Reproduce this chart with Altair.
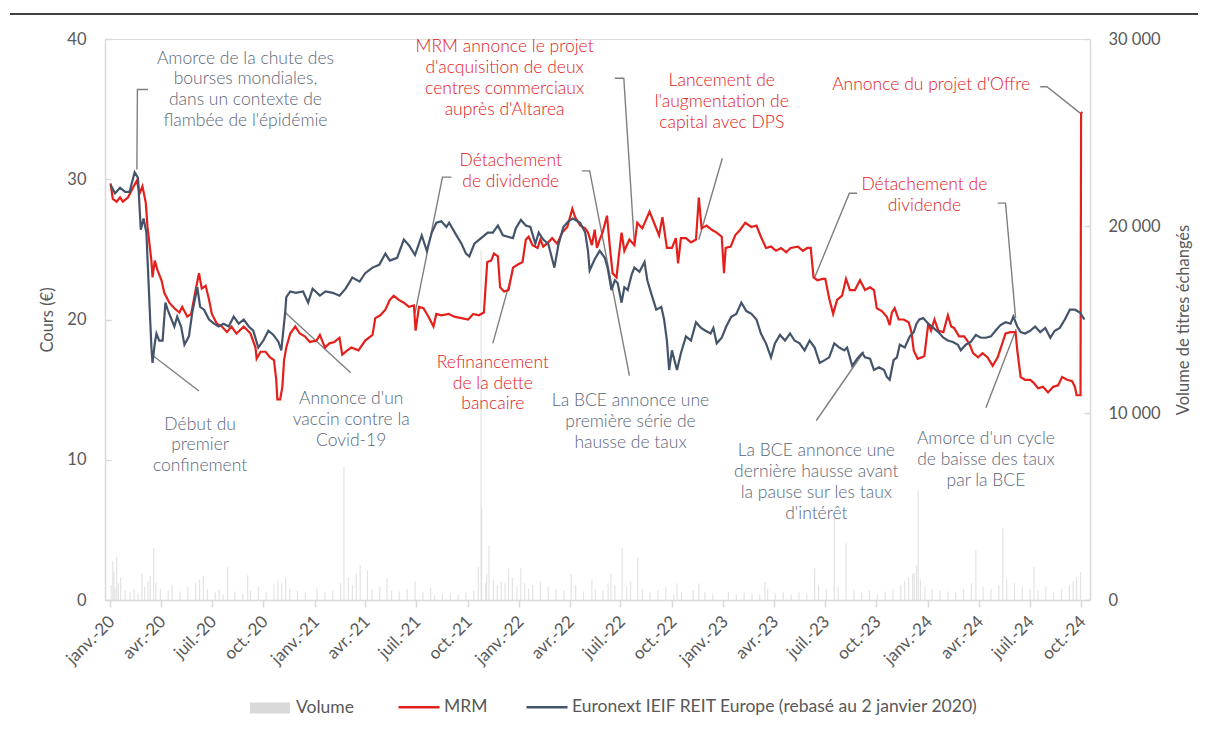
import altair as alt
import pandas as pd

# ---------------- data ----------------
MRM_NAME = "MRM"
IDX_NAME = "Euronext IEIF REIT Europe (rebasé au 2 janvier 2020)"

mrm_dates = [
    "2020-01-02", "2020-01-06", "2020-01-13", "2020-01-19", "2020-01-24", "2020-02-02", "2020-02-11", "2020-02-18",
    "2020-02-23", "2020-02-28", "2020-03-05", "2020-03-08", "2020-03-15", "2020-03-17", "2020-03-21", "2020-03-26",
    "2020-04-02", "2020-04-07", "2020-04-16", "2020-04-25", "2020-05-04", "2020-05-09", "2020-05-18", "2020-05-25",
    "2020-06-03", "2020-06-08", "2020-06-13", "2020-06-20", "2020-06-26", "2020-07-01", "2020-07-10", "2020-07-19",
    "2020-07-28", "2020-08-05", "2020-08-14", "2020-08-27", "2020-09-08", "2020-09-17", "2020-09-19", "2020-09-26",
    "2020-10-05", "2020-10-13", "2020-10-20", "2020-10-24", "2020-10-26", "2020-10-31", "2020-11-04", "2020-11-07",
    "2020-11-11", "2020-11-18", "2020-11-27", "2020-12-05", "2020-12-14", "2020-12-23", "2021-01-04", "2021-01-10",
    "2021-01-19", "2021-01-27", "2021-02-05", "2021-02-14", "2021-02-19", "2021-02-28", "2021-03-07", "2021-03-20",
    "2021-04-01", "2021-04-14", "2021-04-19", "2021-04-28", "2021-05-07", "2021-05-15", "2021-05-22", "2021-05-31",
    "2021-06-09", "2021-06-18", "2021-06-27", "2021-06-30", "2021-07-06", "2021-07-14", "2021-07-23", "2021-08-01",
    "2021-08-06", "2021-08-15", "2021-08-28", "2021-09-07", "2021-09-20", "2021-10-02", "2021-10-11", "2021-10-21",
    "2021-10-30", "2021-11-05", "2021-11-12", "2021-11-17", "2021-11-24", "2021-11-28", "2021-12-05", "2021-12-13",
    "2021-12-21", "2021-12-29", "2022-01-07", "2022-01-13", "2022-01-18", "2022-01-25", "2022-02-03", "2022-02-08",
    "2022-02-13", "2022-02-22", "2022-03-01", "2022-03-10", "2022-03-19", "2022-03-28", "2022-04-06", "2022-04-11",
    "2022-04-20", "2022-04-29", "2022-05-04", "2022-05-11", "2022-05-16", "2022-05-20", "2022-05-25", "2022-05-30",
    "2022-06-07", "2022-06-12", "2022-06-17", "2022-06-24", "2022-06-28", "2022-07-03", "2022-07-08", "2022-07-17",
    "2022-07-26", "2022-07-31", "2022-08-09", "2022-08-22", "2022-08-30", "2022-09-08", "2022-09-14", "2022-09-22",
    "2022-10-01", "2022-10-08", "2022-10-12", "2022-10-17", "2022-10-26", "2022-11-04", "2022-11-13", "2022-11-18",
    "2022-11-23", "2022-12-02", "2022-12-11", "2022-12-20", "2022-12-29", "2023-01-02", "2023-01-05", "2023-01-14",
    "2023-01-22", "2023-01-31", "2023-02-09", "2023-02-20", "2023-03-01", "2023-03-09", "2023-03-18", "2023-03-27",
    "2023-04-05", "2023-04-14", "2023-04-23", "2023-05-01", "2023-05-14", "2023-05-23", "2023-05-31", "2023-06-06",
    "2023-06-11", "2023-06-18", "2023-06-27", "2023-07-02", "2023-07-09", "2023-07-16", "2023-07-23", "2023-08-01",
    "2023-08-08", "2023-08-15", "2023-08-24", "2023-09-02", "2023-09-11", "2023-09-20", "2023-09-27", "2023-10-02",
    "2023-10-11", "2023-10-20", "2023-10-25", "2023-10-29", "2023-11-03", "2023-11-10", "2023-11-19", "2023-11-28",
    "2023-12-03", "2023-12-07", "2023-12-14", "2023-12-21", "2023-12-26", "2024-01-02", "2024-01-07", "2024-01-13",
    "2024-01-20", "2024-01-29", "2024-02-06", "2024-02-12", "2024-02-17", "2024-02-26", "2024-03-06", "2024-03-15",
    "2024-03-22", "2024-03-31", "2024-04-08", "2024-04-17", "2024-04-26", "2024-05-05", "2024-05-10", "2024-05-19",
    "2024-05-28", "2024-06-06", "2024-06-09", "2024-06-15", "2024-06-23", "2024-07-02", "2024-07-08", "2024-07-16",
    "2024-07-25", "2024-08-03", "2024-08-12", "2024-08-21", "2024-08-28", "2024-09-06", "2024-09-15", "2024-09-20",
    "2024-09-23", "2024-09-30", "2024-10-01", "2024-10-03",
]
mrm_values = [
    29.7, 28.6, 28.4, 28.7, 28.4, 28.7, 29.4, 29.9,
    29.0, 29.5, 28.3, 26.6, 24.2, 23.0, 24.2, 23.5,
    22.8, 21.9, 21.2, 20.8, 20.5, 20.9, 20.2, 20.4,
    22.3, 23.3, 22.2, 22.4, 21.4, 20.4, 19.7, 19.5,
    19.1, 19.5, 19.0, 19.5, 19.0, 18.0, 17.2, 17.7,
    17.7, 17.3, 17.1, 15.7, 14.3, 14.3, 15.2, 17.1,
    18.0, 19.0, 19.5, 19.0, 18.8, 18.4, 18.5, 18.9,
    18.0, 18.3, 18.4, 18.7, 17.5, 17.8, 18.0, 17.8,
    18.5, 18.9, 20.1, 20.3, 20.7, 21.4, 21.7, 21.4,
    21.2, 20.9, 21.0, 19.2, 20.9, 20.8, 20.2, 19.5,
    20.4, 20.3, 20.4, 20.2, 20.1, 20.0, 20.4, 20.3,
    20.5, 24.1, 24.2, 24.7, 24.5, 22.3, 22.0, 22.1,
    23.7, 23.9, 24.1, 25.7, 25.9, 25.3, 25.1, 25.7,
    25.2, 25.5, 25.8, 25.4, 26.2, 26.6, 27.9, 27.3,
    26.7, 26.5, 26.2, 25.3, 26.4, 25.1, 25.7, 26.2,
    27.4, 25.2, 23.3, 23.0, 24.5, 26.2, 24.9, 25.7,
    25.3, 26.9, 26.5, 27.7, 26.9, 26.0, 27.3, 25.1,
    25.1, 25.8, 24.0, 25.8, 25.8, 25.5, 25.7, 28.7,
    26.5, 26.7, 26.4, 26.2, 25.9, 23.3, 25.1, 25.2,
    26.0, 26.4, 26.9, 26.6, 26.7, 25.9, 25.1, 25.2,
    24.9, 25.1, 24.8, 25.1, 25.2, 24.9, 25.1, 25.1,
    23.0, 22.8, 22.9, 22.9, 21.5, 20.4, 21.4, 21.7,
    22.9, 22.1, 22.1, 22.8, 22.1, 22.3, 22.1, 20.8,
    20.6, 20.2, 19.6, 20.5, 20.8, 20.0, 20.0, 19.8,
    19.1, 17.8, 17.2, 17.3, 17.4, 19.7, 19.2, 20.0,
    19.2, 19.1, 20.3, 19.5, 19.4, 18.8, 18.8, 18.3,
    17.6, 17.3, 17.6, 17.3, 16.7, 17.3, 17.9, 19.0,
    19.1, 19.1, 17.8, 15.9, 15.7, 15.7, 15.5, 15.1,
    15.2, 14.8, 15.2, 15.3, 15.9, 15.7, 15.6, 15.2,
    14.6, 14.6, 34.7, 34.8,
]

idx_dates = [
    "2020-01-02", "2020-01-10", "2020-01-19", "2020-01-28", "2020-02-05", "2020-02-14", "2020-02-20", "2020-02-25",
    "2020-03-01", "2020-03-06", "2020-03-12", "2020-03-15", "2020-03-17", "2020-03-21", "2020-03-24", "2020-03-29",
    "2020-04-04", "2020-04-09", "2020-04-13", "2020-04-20", "2020-04-25", "2020-04-30", "2020-05-07", "2020-05-13",
    "2020-05-21", "2020-05-27", "2020-06-05", "2020-06-10", "2020-06-17", "2020-06-26", "2020-07-05", "2020-07-13",
    "2020-07-22", "2020-07-31", "2020-08-09", "2020-08-18", "2020-08-27", "2020-09-05", "2020-09-13", "2020-09-22",
    "2020-10-01", "2020-10-10", "2020-10-19", "2020-10-28", "2020-11-02", "2020-11-09", "2020-11-11", "2020-11-18",
    "2020-11-28", "2020-12-11", "2020-12-20", "2020-12-28", "2021-01-10", "2021-01-20", "2021-02-02", "2021-02-14",
    "2021-02-25", "2021-03-09", "2021-03-22", "2021-04-01", "2021-04-14", "2021-04-26", "2021-05-07", "2021-05-15",
    "2021-05-28", "2021-06-09", "2021-06-18", "2021-06-29", "2021-07-11", "2021-07-20", "2021-07-29", "2021-08-06",
    "2021-08-15", "2021-08-24", "2021-08-29", "2021-09-11", "2021-09-20", "2021-09-28", "2021-10-04", "2021-10-13",
    "2021-10-25", "2021-11-06", "2021-11-15", "2021-11-24", "2021-12-03", "2021-12-12", "2021-12-21", "2021-12-26",
    "2022-01-04", "2022-01-13", "2022-01-21", "2022-01-30", "2022-02-05", "2022-02-13", "2022-02-22", "2022-03-05",
    "2022-03-12", "2022-03-21", "2022-03-30", "2022-04-07", "2022-04-20", "2022-04-29", "2022-05-04", "2022-05-07",
    "2022-05-16", "2022-05-25", "2022-06-03", "2022-06-08", "2022-06-15", "2022-06-21", "2022-06-26", "2022-07-03",
    "2022-07-08", "2022-07-14", "2022-07-21", "2022-07-26", "2022-08-04", "2022-08-13", "2022-08-18", "2022-08-27",
    "2022-09-03", "2022-09-12", "2022-09-17", "2022-09-22", "2022-09-26", "2022-10-01", "2022-10-10", "2022-10-17",
    "2022-10-26", "2022-11-04", "2022-11-13", "2022-11-22", "2022-11-30", "2022-12-09", "2022-12-14", "2022-12-20",
    "2022-12-29", "2023-01-06", "2023-01-15", "2023-01-24", "2023-02-02", "2023-02-11", "2023-02-20", "2023-03-01",
    "2023-03-09", "2023-03-18", "2023-03-27", "2023-04-03", "2023-04-12", "2023-04-21", "2023-04-30", "2023-05-08",
    "2023-05-17", "2023-05-26", "2023-06-04", "2023-06-13", "2023-06-22", "2023-07-01", "2023-07-09", "2023-07-18",
    "2023-07-27", "2023-08-05", "2023-08-10", "2023-08-19", "2023-08-28", "2023-09-06", "2023-09-11", "2023-09-20",
    "2023-09-27", "2023-10-06", "2023-10-15", "2023-10-20", "2023-10-25", "2023-11-01", "2023-11-07", "2023-11-12",
    "2023-11-21", "2023-11-30", "2023-12-07", "2023-12-12", "2023-12-17", "2023-12-24", "2024-01-02", "2024-01-11",
    "2024-01-20", "2024-01-29", "2024-02-06", "2024-02-15", "2024-02-24", "2024-02-29", "2024-03-09", "2024-03-18",
    "2024-03-27", "2024-04-05", "2024-04-14", "2024-04-23", "2024-05-01", "2024-05-10", "2024-05-19", "2024-05-28",
    "2024-06-02", "2024-06-09", "2024-06-15", "2024-06-23", "2024-07-02", "2024-07-11", "2024-07-20", "2024-07-29",
    "2024-08-07", "2024-08-15", "2024-08-24", "2024-09-02", "2024-09-11", "2024-09-20", "2024-09-29", "2024-10-07",
]
idx_values = [
    29.6, 29.0, 29.4, 29.1, 29.1, 30.5, 30.1, 26.4,
    27.2, 26.2, 20.7, 18.0, 16.9, 18.3, 19.0, 18.5,
    18.5, 21.2, 20.7, 20.0, 19.5, 20.2, 19.5, 18.2,
    18.8, 20.5, 22.3, 20.9, 20.7, 20.0, 19.7, 19.5,
    19.7, 19.5, 20.2, 19.7, 20.0, 19.5, 19.2, 18.0,
    18.5, 19.2, 18.9, 18.4, 17.8, 20.5, 21.6, 22.0,
    21.9, 22.0, 21.2, 22.2, 21.7, 22.0, 21.9, 21.7,
    22.2, 23.0, 22.7, 23.3, 23.7, 23.9, 24.7, 24.2,
    24.4, 25.7, 25.3, 24.6, 26.0, 24.9, 26.2, 26.9,
    27.0, 26.6, 26.9, 26.0, 25.4, 24.7, 24.5, 25.4,
    25.8, 26.2, 26.2, 26.7, 26.0, 25.9, 25.8, 26.5,
    27.1, 26.7, 26.6, 25.4, 26.2, 25.7, 25.4, 23.7,
    25.3, 26.6, 27.0, 27.2, 26.9, 26.2, 24.9, 23.5,
    24.3, 24.9, 24.4, 23.7, 22.1, 22.8, 22.6, 21.2,
    22.3, 22.1, 23.2, 23.7, 23.4, 24.1, 22.8, 21.6,
    20.7, 20.9, 20.0, 18.5, 16.4, 17.8, 16.4, 17.6,
    18.8, 18.5, 19.8, 19.4, 19.2, 19.0, 19.4, 18.3,
    18.7, 19.5, 20.2, 20.4, 21.2, 20.6, 20.4, 20.0,
    19.0, 18.3, 17.3, 18.3, 18.9, 18.5, 19.0, 18.5,
    18.3, 17.8, 18.5, 18.0, 16.9, 17.1, 17.3, 18.3,
    18.0, 17.8, 18.0, 16.7, 17.2, 17.6, 17.3, 17.2,
    16.4, 16.6, 16.4, 15.9, 15.7, 17.1, 17.3, 18.2,
    18.0, 18.8, 19.1, 19.7, 20.0, 20.1, 19.7, 19.4,
    19.1, 18.7, 18.5, 18.4, 18.2, 17.8, 18.2, 18.4,
    18.9, 18.7, 18.7, 18.8, 19.2, 19.6, 19.8, 19.7,
    20.2, 19.5, 19.1, 19.0, 19.2, 19.5, 19.1, 19.4,
    18.7, 19.2, 19.4, 20.0, 20.7, 20.7, 20.5, 20.0,
]

vol_dates = [
    "2020-01-03", "2020-01-06", "2020-01-08", "2020-01-10", "2020-01-13", "2020-01-16", "2020-01-20", "2020-01-28",
    "2020-02-06", "2020-02-13", "2020-02-20", "2020-02-27", "2020-03-03", "2020-03-09", "2020-03-13", "2020-03-19",
    "2020-03-23", "2020-03-31", "2020-04-14", "2020-04-21", "2020-05-05", "2020-05-19", "2020-06-02", "2020-06-09",
    "2020-06-16", "2020-06-23", "2020-07-07", "2020-07-14", "2020-07-21", "2020-07-29", "2020-08-11", "2020-08-25",
    "2020-09-03", "2020-09-08", "2020-09-22", "2020-10-06", "2020-10-20", "2020-10-27", "2020-11-03", "2020-11-10",
    "2020-11-17", "2020-12-01", "2020-12-15", "2021-01-05", "2021-01-19", "2021-02-02", "2021-02-16", "2021-02-22",
    "2021-03-02", "2021-03-09", "2021-03-16", "2021-03-23", "2021-04-05", "2021-04-13", "2021-04-27", "2021-05-10",
    "2021-05-18", "2021-06-01", "2021-06-15", "2021-06-29", "2021-07-13", "2021-07-27", "2021-08-03", "2021-08-17",
    "2021-08-31", "2021-09-14", "2021-09-28", "2021-10-12", "2021-10-20", "2021-10-25", "2021-10-26", "2021-11-02",
    "2021-11-04", "2021-11-08", "2021-11-16", "2021-11-23", "2021-11-30", "2021-12-07", "2021-12-13", "2021-12-20",
    "2021-12-28", "2022-01-04", "2022-01-11", "2022-01-18", "2022-01-25", "2022-02-08", "2022-02-22", "2022-03-08",
    "2022-03-22", "2022-04-04", "2022-04-12", "2022-04-26", "2022-05-11", "2022-05-17", "2022-05-31", "2022-06-09",
    "2022-06-14", "2022-06-21", "2022-07-04", "2022-07-12", "2022-07-19", "2022-08-01", "2022-08-09", "2022-08-23",
    "2022-09-06", "2022-09-20", "2022-10-04", "2022-10-10", "2022-10-18", "2022-11-08", "2022-11-18", "2022-11-29",
    "2022-12-13", "2023-01-10", "2023-01-24", "2023-02-07", "2023-02-21", "2023-03-07", "2023-03-16", "2023-03-21",
    "2023-04-04", "2023-04-18", "2023-05-02", "2023-05-16", "2023-05-30", "2023-06-13", "2023-06-20", "2023-07-04",
    "2023-07-18", "2023-07-25", "2023-08-08", "2023-08-22", "2023-09-05", "2023-09-19", "2023-10-03", "2023-10-17",
    "2023-10-31", "2023-11-14", "2023-11-21", "2023-11-28", "2023-12-05", "2023-12-08", "2023-12-12", "2023-12-15",
    "2023-12-19", "2023-12-27", "2024-01-09", "2024-01-23", "2024-02-06", "2024-02-20", "2024-03-05", "2024-03-19",
    "2024-03-27", "2024-04-09", "2024-04-23", "2024-05-07", "2024-05-14", "2024-05-21", "2024-06-04", "2024-06-18",
    "2024-07-02", "2024-07-09", "2024-07-16", "2024-07-30", "2024-08-13", "2024-08-27", "2024-09-10", "2024-09-17",
    "2024-09-23", "2024-09-30",
]
vol_values = [
    800, 2100, 1500, 600, 2300, 900, 1200, 500,
    400, 600, 350, 1400, 700, 1000, 1300, 2800,
    900, 600, 500, 800, 450, 700, 900, 1100,
    1300, 600, 400, 550, 300, 1760, 450, 350,
    1330, 500, 700, 400, 850, 1100, 900, 1200,
    600, 500, 400, 650, 450, 500, 900, 7130,
    1200, 800, 1400, 1860, 1600, 600, 700, 1170,
    500, 450, 600, 1000, 400, 640, 250, 300,
    350, 300, 400, 500, 1760, 18700, 4950, 900,
    1400, 2930, 1100, 800, 1000, 900, 1700, 1200,
    700, 1700, 900, 600, 800, 1000, 700, 600,
    500, 1380, 800, 450, 1100, 600, 500, 900,
    1440, 800, 2770, 700, 1000, 2290, 600, 400,
    500, 700, 300, 900, 450, 500, 900, 400,
    350, 450, 300, 400, 350, 300, 960, 600,
    350, 400, 300, 400, 350, 1700, 800, 600,
    4420, 700, 3030, 500, 400, 500, 300, 450,
    600, 800, 1000, 1200, 1400, 1440, 1800, 5850,
    1100, 700, 600, 500, 450, 400, 600, 900,
    2660, 700, 600, 800, 3830, 1100, 900, 700,
    600, 1760, 500, 700, 400, 600, 800, 1000,
    1220, 1500,
]

# annotations (text lines, anchor date, top value, colour group)
ann_lines = [
    ["Amorce de la chute des", "bourses mondiales,", "dans un contexte de", "flambée de l'épidémie"],
    ["Début du", "premier", "confinement"],
    ["Annonce d'un", "vaccin contre la", "Covid-19"],
    ["Détachement", "de dividende"],
    ["Refinancement", "de la dette", "bancaire"],
    ["MRM annonce le projet", "d'acquisition de deux", "centres commerciaux", "auprès d'Altarea"],
    ["Lancement de", "l'augmentation de", "capital avec DPS"],
    ["Annonce du projet d'Offre"],
    ["Détachement de", "dividende"],
    ["La BCE annonce une", "première série de", "hausse de taux"],
    ["La BCE annonce une", "dernière hausse avant", "la pause sur les taux", "d'intérêt"],
    ["Amorce d'un cycle", "de baisse des taux", "par la BCE"],
]
ann_dates = [
    "2020-08-30", "2020-06-10", "2021-03-07", "2021-12-17", "2021-11-15", "2021-12-06",
    "2022-12-29", "2024-01-07", "2023-12-26", "2022-07-19", "2023-06-16", "2024-04-14",
]
ann_values = [39.25, 13.15, 14.95, 31.95, 17.55, 40.05, 37.65, 37.35, 30.25, 14.8, 11.25, 12.1]
ann_kind = ["gris", "gris", "gris", "rouge", "rouge", "rouge", "rouge", "rouge", "rouge", "gris", "gris", "gris"]

# leader lines: list of (date, value) vertices per annotation
leaders = [
    [("2020-03-09", 36.4), ("2020-02-19", 36.4), ("2020-02-18", 30.7)],
    [("2020-03-15", 17.5), ("2020-06-08", 14.9)],
    [("2020-11-09", 20.5), ("2021-03-06", 16.2)],
    [("2021-09-02", 30.15), ("2021-08-17", 30.15), ("2021-06-29", 20.45)],
    [("2021-11-15", 18.3), ("2021-12-21", 23.5)],
    [("2022-06-21", 37.2), ("2022-07-07", 37.2), ("2022-07-26", 25.3)],
    [("2022-12-30", 31.5), ("2022-11-18", 25.7)],
    [("2024-07-20", 36.6), ("2024-08-01", 36.6), ("2024-09-30", 34.7)],
    [("2023-08-28", 29.0), ("2023-08-14", 29.0), ("2023-06-13", 23.0)],
    [("2022-04-23", 30.6), ("2022-05-07", 30.6), ("2022-07-17", 16.0)],
    [("2023-06-16", 12.8), ("2023-09-09", 17.7)],
    [("2024-05-05", 28.3), ("2024-05-19", 28.3), ("2024-06-06", 20.1)],
    [("2024-04-14", 13.7), ("2024-06-07", 19.3)],
]

month_fr = ["janv.", "févr.", "mars", "avr.", "mai", "juin", "juil.", "août", "sept.", "oct.", "nov.", "déc."]
tick_years_months = [(y, m) for y in range(2020, 2025) for m in (1, 4, 7, 10)]
left_ticks = [0, 10, 20, 30, 40]
right_ticks = [0, 10000, 20000, 30000]

# ---------------- styles ----------------
RED = "#E3201B"
DARK = "#44546A"
GREY_TXT = "#5B6677"
AXIS_GREY = "#D9D9D9"
LABEL = "#595959"
FONT = "Lato"
W, H = 985, 561

# ---------------- frames ----------------
mrm_df = pd.DataFrame({"date": mrm_dates, "value": mrm_values, "serie": MRM_NAME})
idx_df = pd.DataFrame({"date": idx_dates, "value": idx_values, "serie": IDX_NAME})
vol_df = pd.DataFrame({"date": vol_dates, "volume": vol_values, "serie": "Volume"})
ann_df = pd.DataFrame({"date": ann_dates, "value": ann_values, "lines": ann_lines, "kind": ann_kind})
lead_rows = []
for i, pts in enumerate(leaders):
    for k, (d, v) in enumerate(pts):
        lead_rows.append({"id": i, "k": k, "date": d, "value": v})
lead_df = pd.DataFrame(lead_rows)

x_scale = alt.Scale(
    type="utc",
    domain=[alt.DateTime(year=2020, month=1, date=1, utc=True), alt.DateTime(year=2024, month=10, date=8, utc=True)],
)
month_arr = "[" + ",".join("'" + m + "'" for m in month_fr) + "]"
x_axis = alt.Axis(
    values=[alt.DateTime(year=y, month=m, date=1, utc=True) for y, m in tick_years_months],
    labelExpr=month_arr + "[utcmonth(datum.value)] + '-' + utcFormat(datum.value, '%y')",
    labelAngle=315, labelFontSize=17, labelColor=LABEL, labelFont=FONT, labelFlush=False,
    labelOverlap=False, labelPadding=6, labelOffset=-4, domainColor=AXIS_GREY, domainWidth=1.5,
    tickColor=AXIS_GREY, tickSize=7, tickWidth=1.5, grid=False, title=None,
)
x_enc = alt.X("date:T", scale=x_scale, axis=x_axis)
price_scale = alt.Scale(domain=[0, 40])

vol = alt.Chart(vol_df).mark_bar(width=1.2, opacity=0.75).encode(
    x=x_enc,
    y=alt.Y("volume:Q", scale=alt.Scale(domain=[0, 30000]), axis=alt.Axis(
        orient="right", values=right_ticks,
        labelExpr="replace(format(datum.value, ','), ',', ' ')",
        title="Volume de titres échangés", titleAngle=270, titleX=93, titleY=H / 2,
        titleAlign="center", titleBaseline="middle", titleFontSize=16.5, titleFontWeight="normal",
        titleColor=LABEL, titleFont=FONT, labelFontSize=16.5, labelColor=LABEL, labelFont=FONT,
        labelPadding=18, ticks=False, domainColor=AXIS_GREY, domainWidth=1.5, grid=False)),
    fill=alt.Fill("serie:N", scale=alt.Scale(domain=["Volume"], range=["#D9D9D9"]), legend=alt.Legend(
        orient="none", legendX=155, legendY=659, title=None,
        symbolType="M-2,-0.55H2V0.55H-2Z", symbolSize=400, symbolStrokeWidth=0, symbolOpacity=1,
        labelFontSize=17.5, labelColor=LABEL, labelFont=FONT, labelOffset=16)),
)

# inward tick marks on both value axes
left_tick_layer = alt.Chart(pd.DataFrame({"v": left_ticks})).mark_point(opacity=0).encode(
    y=alt.Y("v:Q", scale=price_scale, axis=alt.Axis(
        orient="right", offset=-W, values=left_ticks, labels=False, domain=False, title=None,
        tickSize=6, tickColor=AXIS_GREY, tickWidth=1.5, grid=False)),
)
right_tick_layer = alt.Chart(pd.DataFrame({"v": right_ticks})).mark_point(opacity=0).encode(
    y=alt.Y("v:Q", scale=alt.Scale(domain=[0, 30000]), axis=alt.Axis(
        orient="left", offset=-W, values=right_ticks, labels=False, domain=False, title=None,
        tickSize=6, tickColor=AXIS_GREY, tickWidth=1.5, grid=False)),
)

lead = alt.Chart(lead_df).mark_line(color="#7F7F7F", strokeWidth=1.4).encode(
    x=x_enc,
    y=alt.Y("value:Q", scale=price_scale, axis=None),
    detail="id:N",
    order="k:Q",
)

stroke_scale = alt.Scale(domain=[MRM_NAME, IDX_NAME], range=[RED, DARK])
stroke_legend = alt.Legend(
    orient="none", legendX=292, legendY=646, direction="horizontal", title=None,
    symbolType="stroke", symbolSize=1681, symbolStrokeWidth=2.5,
    labelFontSize=17.5, labelColor=LABEL, labelFont=FONT, labelOffset=3, labelLimit=700, columnPadding=33,
)

mrm = alt.Chart(mrm_df).mark_line(strokeWidth=2.2).encode(
    x=x_enc,
    y=alt.Y("value:Q", scale=price_scale, axis=alt.Axis(
        orient="left", values=left_ticks, title="Cours (€)", titleAngle=270, titleX=-58, titleY=H / 2,
        titleAlign="center", titleBaseline="middle", titleFontSize=16.5, titleFontWeight="normal",
        titleColor=LABEL, titleFont=FONT, labelFontSize=16.5, labelColor=LABEL, labelFont=FONT,
        labelPadding=19, ticks=False, domainColor=AXIS_GREY, domainWidth=1.5, grid=False)),
    stroke=alt.Stroke("serie:N", scale=stroke_scale, legend=stroke_legend),
)
idx = alt.Chart(idx_df).mark_line(strokeWidth=2.2).encode(
    x=x_enc,
    y=alt.Y("value:Q", scale=price_scale, axis=None),
    stroke=alt.Stroke("serie:N", scale=stroke_scale, legend=stroke_legend),
)

ann = alt.Chart(ann_df).mark_text(
    font=FONT, fontSize=17.5, fontWeight=300, lineHeight=20.8, align="center", baseline="top"
).encode(
    x=x_enc,
    y=alt.Y("value:Q", scale=price_scale, axis=None),
    text="lines",
    color=alt.Color("kind:N", scale=alt.Scale(domain=["gris", "rouge"], range=[GREY_TXT, RED]), legend=None),
)

top_rule = alt.Chart(pd.DataFrame({"a": [0]})).mark_rule(color="black", strokeWidth=1.5).encode(
    x=alt.value(-95), x2=alt.value(1101), y=alt.value(-25)
)

chart = alt.layer(
    vol, left_tick_layer, right_tick_layer, lead, mrm, idx, ann, top_rule
).resolve_scale(y="independent").properties(
    width=W, height=H,
    autosize=alt.AutoSizeParams(type="none"),
    padding={"left": 97, "top": 31, "right": 108, "bottom": 123},
).configure_view(stroke=None).configure(background="white")

chart.save("out.html", embed_options={"renderer": "svg", "actions": False})
